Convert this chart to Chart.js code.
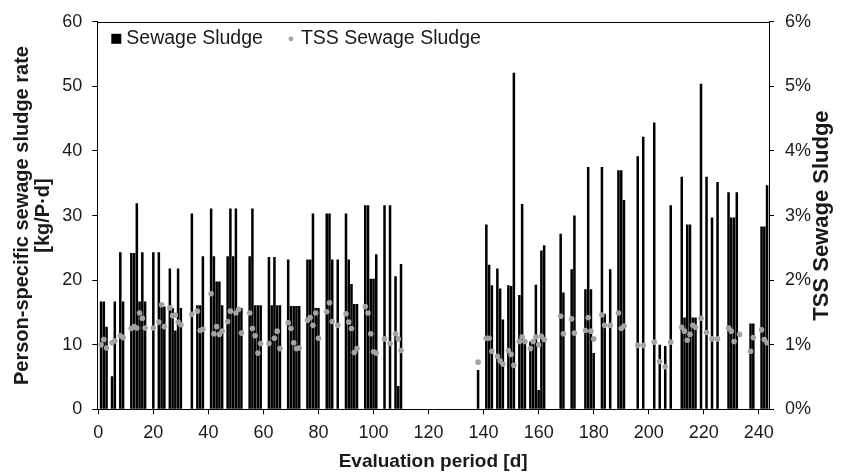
<!DOCTYPE html>
<html>
<head>
<meta charset="utf-8">
<script src="https://cdn.jsdelivr.net/npm/chart.js@4.4.1/dist/chart.umd.min.js"></script>
<style>
  html, body { margin: 0; padding: 0; background: #fff; }
  #chart { display: block; }
</style>
</head>
<body>
<canvas id="chart" width="843" height="473"></canvas>
<script>
// day of sludge removal and person-specific rate [kg/P·d]
const sludgeDay = [
  1, 2, 3, 5, 6, 8, 9, 12, 13, 14,
  15, 16, 17, 20, 22, 23, 24, 26, 27, 28,
  29, 30, 34, 36, 37, 38, 41, 42, 43, 44,
  45, 47, 48, 49, 50, 51, 52, 55, 56, 57,
  58, 59, 62, 63, 64, 65, 66, 69, 70, 71,
  72, 73, 76, 77, 78, 79, 80, 83, 84, 85,
  87, 90, 91, 92, 93, 94, 97, 98, 99, 100,
  101, 104, 106, 108, 109, 110, 138, 141, 142, 143,
  145, 146, 147, 149, 150, 151, 153, 154, 155, 157,
  158, 159, 160, 161, 162, 168, 169, 172, 173, 177,
  178, 179, 180, 183, 184, 186, 189, 190, 191, 196,
  198, 202, 204, 206, 208, 212, 213, 214, 215, 216,
  217, 219, 221, 223, 225, 229, 230, 231, 232, 237,
  238, 241, 242, 243
];
const sludgeRate = [
  16.7, 16.7, 12.8, 5.1, 16.7, 24.3, 16.7, 24.2, 24.2, 31.9,
  16.7, 24.3, 16.7, 24.3, 24.3, 15.9, 15.9, 21.8, 15.7, 12.2,
  21.8, 15.7, 30.3, 16.1, 16.1, 23.7, 31.1, 23.7, 19.8, 19.8,
  16.1, 23.7, 31.1, 23.7, 31.1, 15.7, 15.7, 23.7, 31.1, 16.1,
  16.1, 16.1, 23.6, 16.1, 23.6, 16.1, 16.1, 23.2, 16.0, 16.0,
  16.0, 16.0, 23.2, 23.2, 30.3, 15.7, 15.7, 30.3, 30.3, 23.2,
  23.2, 30.3, 23.2, 19.4, 16.3, 16.3, 31.6, 31.6, 20.2, 20.2,
  24.0, 31.6, 31.6, 20.6, 3.6, 22.5, 6.1, 28.6, 22.4, 19.2,
  21.8, 18.7, 13.9, 19.2, 19.1, 52.1, 17.7, 31.8, 10.6, 10.5,
  10.5, 19.3, 3.0, 24.6, 25.4, 27.2, 18.1, 21.7, 30.0, 18.6,
  37.5, 18.6, 8.7, 37.5, 14.8, 21.7, 37.0, 37.0, 32.4, 39.2,
  42.2, 44.4, 10.0, 9.8, 31.6, 36.0, 14.2, 28.6, 28.6, 14.2,
  14.2, 50.4, 36.0, 29.7, 35.2, 33.6, 29.7, 29.7, 33.6, 13.3,
  13.3, 28.3, 28.3, 34.7
];

// day of TSS measurement and TSS of the sludge [%]
const tssDay = [
  1, 2, 3, 5, 6, 8, 9, 12, 13, 14,
  15, 16, 17, 20, 22, 23, 24, 26, 27, 28,
  29, 30, 34, 36, 37, 38, 41, 42, 43, 44,
  45, 47, 48, 50, 51, 52, 55, 56, 57, 58,
  59, 62, 64, 65, 66, 69, 70, 71, 72, 73,
  76, 77, 78, 79, 80, 83, 84, 85, 87, 90,
  91, 92, 93, 94, 97, 98, 99, 100, 101, 104,
  106, 108, 109, 110, 138, 141, 142, 143, 145, 146,
  147, 149, 150, 151, 153, 154, 155, 157, 158, 159,
  160, 161, 162, 168, 169, 172, 173, 177, 178, 179,
  180, 183, 184, 186, 189, 190, 191, 196, 198, 202,
  204, 206, 208, 212, 213, 214, 215, 216, 217, 219,
  221, 223, 225, 229, 230, 231, 233, 237, 238, 241,
  242, 243
];
const tssPct = [
  1.00, 1.08, 0.95, 1.03, 1.06, 1.14, 1.11, 1.25, 1.28, 1.26,
  1.49, 1.41, 1.26, 1.26, 1.35, 1.62, 1.28, 1.57, 1.45, 1.46,
  1.35, 1.31, 1.47, 1.52, 1.22, 1.24, 1.79, 1.17, 1.28, 1.16,
  1.21, 1.36, 1.52, 1.49, 1.55, 1.18, 1.49, 1.25, 1.14, 0.87,
  1.02, 1.02, 1.10, 1.21, 0.94, 1.34, 1.25, 1.03, 0.94, 0.95,
  1.38, 1.42, 1.30, 1.49, 1.10, 1.51, 1.65, 1.36, 1.30, 1.48,
  1.35, 1.25, 0.88, 0.94, 1.59, 1.49, 1.17, 0.89, 0.87, 1.09,
  1.02, 1.17, 1.09, 0.91, 0.73, 1.10, 1.10, 0.90, 0.82, 0.75,
  0.70, 0.91, 0.85, 0.68, 1.05, 1.12, 1.05, 0.94, 1.05, 1.12,
  1.00, 1.13, 1.08, 1.44, 1.17, 1.40, 1.18, 1.22, 1.42, 1.21,
  1.09, 1.46, 1.30, 1.30, 1.49, 1.25, 1.29, 0.99, 0.99, 1.04,
  0.74, 0.66, 1.04, 1.27, 1.21, 1.07, 1.16, 1.30, 1.27, 1.41,
  1.19, 1.09, 1.09, 1.26, 1.21, 1.05, 1.16, 0.90, 1.11, 1.23,
  1.08, 1.03
];

const xTicks = [0, 20, 40, 60, 80, 100, 120, 140, 160, 180, 200, 220, 240];

const FONT = "'Liberation Sans', Arial, sans-serif";
const INK = '#1a1a1a';
Chart.defaults.font.family = FONT;
Chart.defaults.color = INK;

// frame top line, right axis title (reads bottom-up) and the legend inside the plot
const extras = {
  id: 'extras',
  afterDraw(chart) {
    const { ctx, chartArea: a } = chart;
    ctx.save();
    ctx.strokeStyle = '#000';
    ctx.lineWidth = 1;
    const top = Math.round(a.top) + 0.5;
    ctx.beginPath();
    ctx.moveTo(Math.round(a.left), top);
    ctx.lineTo(Math.round(a.right) + 1, top);
    ctx.stroke();

    ctx.fillStyle = INK;
    ctx.font = 'bold 22px ' + FONT;
    ctx.textAlign = 'center';
    ctx.textBaseline = 'middle';
    ctx.translate(chart.width - 21, (a.top + a.bottom) / 2);
    ctx.rotate(-Math.PI / 2);
    ctx.fillText('TSS Sewage Sludge', 0, 0);
    ctx.restore();

    ctx.save();
    const ds = chart.data.datasets;
    const ly = a.top + 17;
    ctx.font = '19.5px ' + FONT;
    ctx.textBaseline = 'middle';
    ctx.textAlign = 'left';
    let x = a.left + 14;
    ctx.fillStyle = ds[0].backgroundColor;
    ctx.fillRect(x, ly - 5, 10, 10);
    ctx.fillStyle = INK;
    ctx.fillText(ds[0].label, x + 15, ly);
    x += 15 + ctx.measureText(ds[0].label).width + 28;
    ctx.fillStyle = ds[1].backgroundColor;
    ctx.beginPath();
    ctx.arc(x, ly, 2.4, 0, Math.PI * 2);
    ctx.fill();
    ctx.fillStyle = INK;
    ctx.fillText(ds[1].label, x + 10, ly);
    ctx.restore();
  }
};

new Chart(document.getElementById('chart'), {
  type: 'bar',
  data: {
    datasets: [
      {
        label: 'Sewage Sludge',
        data: sludgeDay.map((d, i) => ({ x: d, y: sludgeRate[i] })),
        backgroundColor: '#000',
        borderWidth: 0,
        categoryPercentage: 1,
        barPercentage: 0.92,
        yAxisID: 'y',
        order: 1
      },
      {
        type: 'scatter',
        label: 'TSS Sewage Sludge',
        data: tssDay.map((d, i) => ({ x: d, y: tssPct[i] })),
        backgroundColor: '#a3a3a3',
        borderWidth: 0,
        pointRadius: 2.8,
        yAxisID: 'y1',
        order: 0
      }
    ]
  },
  options: {
    responsive: false,
    animation: false,
    events: [],
    layout: { padding: { top: 20.7, left: 0, right: 0, bottom: 0 } },
    plugins: { legend: { display: false }, tooltip: { enabled: false } },
    scales: {
      x: {
        type: 'linear',
        min: -0.36,
        max: 243.7,
        offset: false,
        afterBuildTicks: axis => { axis.ticks = xTicks.map(v => ({ value: v })); },
        afterFit: axis => { axis.height = 63.7; },
        grid: { drawOnChartArea: false, drawTicks: true, tickLength: 5, color: '#000', offset: false },
        border: { display: true, color: '#000', width: 1 },
        ticks: { font: { size: 18 }, color: INK, padding: 8, maxRotation: 0, autoSkip: false },
        title: {
          display: true,
          text: 'Evaluation period [d]',
          font: { size: 19, weight: 'bold' },
          color: INK,
          padding: { top: 0, bottom: 0 }
        }
      },
      y: {
        position: 'left',
        min: 0,
        max: 60,
        afterFit: axis => { axis.width = 97.3; },
        grid: { drawOnChartArea: false, tickLength: 5, color: '#000' },
        border: { display: true, color: '#000', width: 1 },
        ticks: { stepSize: 10, font: { size: 18 }, color: INK, padding: 10 },
        title: {
          display: true,
          text: ['Person-specific sewage sludge rate', '[kg/P·d]'],
          font: { size: 20, weight: 'bold', lineHeight: 1.05 },
          color: INK,
          align: 'center',
          padding: { top: 11.5, bottom: 0 }
        }
      },
      y1: {
        position: 'right',
        min: 0,
        max: 6,
        afterFit: axis => { axis.width = 74; },
        grid: { drawOnChartArea: false, tickLength: 5, color: '#000' },
        border: { display: true, color: '#000', width: 1 },
        ticks: { stepSize: 1, font: { size: 18 }, color: INK, padding: 11, callback: v => v + '%' }
      }
    }
  },
  plugins: [extras]
});
</script>
</body>
</html>
